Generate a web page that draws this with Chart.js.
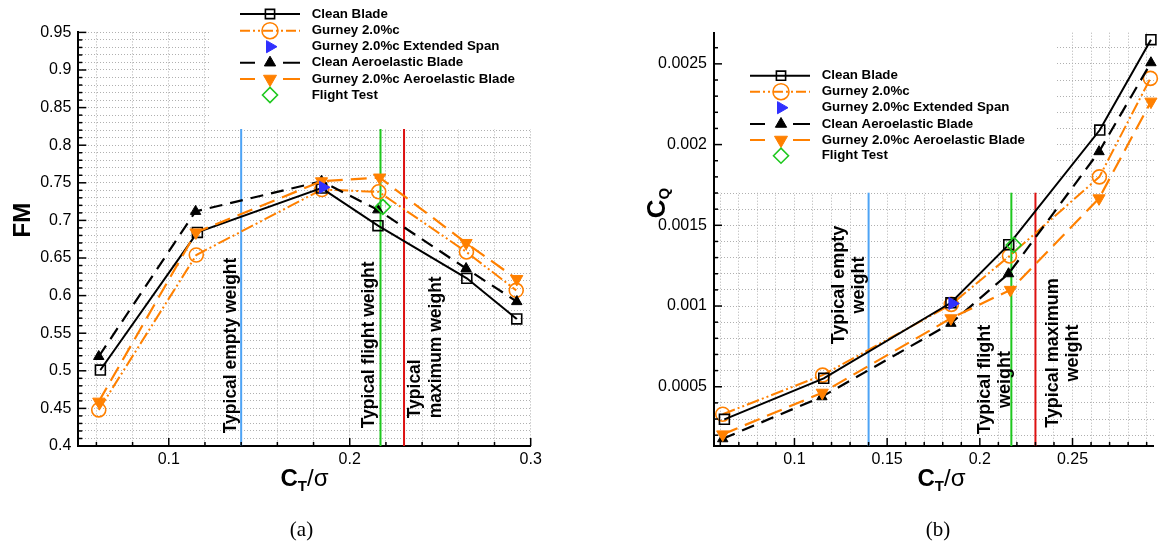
<!DOCTYPE html>
<html><head><meta charset="utf-8">
<script src="https://cdn.jsdelivr.net/npm/chart.js@4.4.1/dist/chart.umd.min.js"></script>
<style>
html,body{margin:0;padding:0;background:#fff;}
#wrap{position:relative;width:1163px;height:546px;overflow:hidden;background:#fff;}
#ca{position:absolute;left:0;top:0;}
#cb{position:absolute;left:580px;top:0;}
.cap{position:absolute;font-family:"Liberation Serif","DejaVu Serif",serif;font-size:21px;color:#000;transform:translate(-50%,-50%);white-space:nowrap;}
</style></head><body>
<div id="wrap">
<canvas id="ca" width="580" height="546"></canvas>
<canvas id="cb" width="583" height="546"></canvas>
<div class="cap" style="left:301.5px;top:529px">(a)</div>
<div class="cap" style="left:938px;top:529px">(b)</div>
</div>
<script>
// ---------------- DATA ----------------
const seriesNames = ['Clean Blade','Gurney 2.0%c','Gurney 2.0%c Extended Span','Clean Aeroelastic Blade','Gurney 2.0%c Aeroelastic Blade','Flight Test'];

const ctClean      = [0.0622, 0.1158, 0.1844, 0.2156, 0.2647, 0.2923];
const ctGurney     = [0.0613, 0.1152, 0.1846, 0.2160, 0.2645, 0.2920];
const ctExtended   = [0.1852];
const ctCleanAero  = [0.0613, 0.1148, 0.1844, 0.2155, 0.2643, 0.2923];
const ctGurneyAero = [0.0613, 0.1150, 0.1844, 0.2165, 0.2643, 0.2923];
const ctFlight     = [0.2183];

const fmClean      = [0.501, 0.684, 0.743, 0.693, 0.623, 0.569];
const fmGurney     = [0.448, 0.654, 0.741, 0.738, 0.658, 0.607];
const fmExtended   = [0.744];
const fmCleanAero  = [0.519, 0.712, 0.752, 0.714, 0.636, 0.592];
const fmGurneyAero = [0.459, 0.684, 0.752, 0.757, 0.670, 0.622];
const fmFlight     = [0.718];

const cqClean      = [0.000298, 0.000552, 0.00102, 0.00138, 0.00209, 0.00265];
const cqGurney     = [0.00033, 0.000572, 0.00101, 0.00131, 0.0018, 0.00241];
const cqExtended   = [0.001016];
const cqCleanAero  = [0.000178, 0.000438, 0.000893, 0.0012, 0.001956, 0.002507];
const cqGurneyAero = [0.000205, 0.000463, 0.000924, 0.0011, 0.001667, 0.002266];
const cqFlight     = [0.001378];

const refLines = [0.14, 0.217, 0.23];
const refLabelsA = [['Typical empty weight'], ['Typical flight weight'], ['Typical', 'maximum weight']];
const refLabelsB = [['Typical empty', 'weight'], ['Typical flight', 'weight'], ['Typical maximum', 'weight']];

const xTickLabelsA = ['0.1', '0.2', '0.3'];
const yTickLabelsA = ['0.4','0.45','0.5','0.55','0.6','0.65','0.7','0.75','0.8','0.85','0.9','0.95'];
const xTickLabelsB = ['0.1', '0.15', '0.2', '0.25'];
const yTickLabelsB = ['0.0005', '0.001', '0.0015', '0.002', '0.0025'];

// ---------------- STYLE ----------------
const FONT = '"Liberation Sans", Arial, Helvetica, sans-serif';
const ORANGE = '#ff8000';
const refColors = ['#4da3f5', '#1ec81e', '#dd1111'];
const styles = [
  {color:'#000', dash:[], width:2, ps:'rect', rot:0, r:7, fill:false, line:true, legDash:[], legR:6.5, order:4},
  {color:ORANGE, dash:[13,3,2,3,2,3], width:2, ps:'circle', rot:0, r:7, fill:false, line:true, legDash:[10,3,2,3,2,3], legR:8, order:5},
  {color:'#3030ff', dash:[], width:0, ps:'triangle', rot:90, r:7, fill:true, line:false, legR:7, order:0},
  {color:'#000', dash:[13,8], width:2.2, ps:'triangle', rot:0, r:6, fill:true, line:true, legDash:[15,28,17], legR:6.5, order:3},
  {color:ORANGE, dash:[16,8], width:2.2, ps:'triangle', rot:180, r:7, fill:true, line:true, legDash:[15,28,17], legR:7.5, order:2},
  {color:'#1ec81e', dash:[], width:0, ps:'rectRot', rot:0, r:7.5, fill:false, line:false, legR:7.5, order:1}
];

function mkDatasets(xs, ys) {
  return xs.map((xa, i) => {
    const s = styles[i];
    return {
      label: seriesNames[i],
      data: xa.map((x, j) => ({x: x, y: ys[i][j]})),
      showLine: s.line, borderColor: s.color, borderWidth: s.width, borderDash: s.dash,
      pointStyle: s.ps, pointRotation: s.rot, pointRadius: s.r, pointHoverRadius: s.r,
      pointBorderColor: s.color,
      pointBackgroundColor: s.fill ? s.color : 'rgba(0,0,0,0)',
      pointBorderWidth: s.fill ? 1 : 1.6,
      tension: 0, clip: false, fill: false, order: s.order
    };
  });
}

function range(a, b, step, dec) { const o = []; for (let v = a; v <= b + step / 2; v += step) o.push(+v.toFixed(dec)); return o; }
function labelFor(v, labels) { for (const l of labels) if (Math.abs(parseFloat(l) - v) < 1e-9) return l; return ''; }

function mkScales(c) {
  const gridCommon = {color:'#b0b0b0', lineWidth:1, drawTicks:false};
  const borderCommon = {display:true, color:'#000', width:2, dash:[1,2]};
  return {
    x: {type:'linear', position:'bottom', min:c.xmin, max:c.xmax,
      afterBuildTicks: s => { s.ticks = c.xGrid.map(v => ({value:v})); },
      afterFit: s => { s.height = 40; },
      ticks: {autoSkip:false, maxRotation:0, minRotation:0, padding:4, color:'#000',
        font:{family:FONT, size:16}, callback: v => labelFor(v, c.xLabels)},
      grid: gridCommon, border: borderCommon},
    y: {type:'linear', position:'left', min:c.ymin, max:c.ymax,
      afterBuildTicks: s => { s.ticks = c.yGrid.map(v => ({value:v})); },
      afterFit: s => { s.width = c.yw; },
      ticks: {autoSkip:false, padding:7, color:'#000',
        font:{family:FONT, size:16}, callback: v => labelFor(v, c.yLabels)},
      grid: gridCommon, border: borderCommon}
  };
}

function drawParts(ctx, parts, x, y, rotated, align) {
  ctx.save();
  ctx.translate(x, y);
  if (rotated) ctx.rotate(-Math.PI / 2);
  ctx.fillStyle = '#000'; ctx.textBaseline = 'alphabetic'; ctx.textAlign = 'left';
  let total = 0;
  parts.forEach(p => { ctx.font = p.font; p.w = ctx.measureText(p.t).width; total += p.w; });
  let cx = align === 'center' ? -total / 2 : 0;
  parts.forEach(p => { ctx.font = p.font; ctx.fillText(p.t, cx, p.dy || 0); cx += p.w; });
  ctx.restore();
}

const decoPlugin = {
  id: 'deco',
  beforeDatasetsDraw(chart, args, o) {
    const ctx = chart.ctx, a = chart.chartArea, xs = chart.scales.x;
    ctx.save();
    refLines.forEach((v, i) => {
      const px = xs.getPixelForValue(v);
      ctx.strokeStyle = refColors[i]; ctx.lineWidth = 2; ctx.setLineDash([]);
      ctx.beginPath(); ctx.moveTo(px, a.top); ctx.lineTo(px, a.bottom); ctx.stroke();
    });
    ctx.fillStyle = '#fff';
    ctx.fillRect(o.box[0], o.box[1], o.box[2] - o.box[0], o.box[3] - o.box[1]);
    ctx.restore();
  },
  afterDatasetsDraw(chart, args, o) {
    const ctx = chart.ctx, a = chart.chartArea, xs = chart.scales.x, ys = chart.scales.y;
    ctx.save();
    // inward ticks
    ctx.strokeStyle = '#000'; ctx.lineWidth = 1.5; ctx.setLineDash([]);
    xs.ticks.forEach(t => {
      const px = xs.getPixelForValue(t.value), L = t.label ? 8 : 4;
      ctx.beginPath(); ctx.moveTo(px, a.bottom); ctx.lineTo(px, a.bottom - L); ctx.stroke();
    });
    ys.ticks.forEach(t => {
      const py = ys.getPixelForValue(t.value), L = t.label ? 8 : 4;
      ctx.beginPath(); ctx.moveTo(a.left, py); ctx.lineTo(a.left + L, py); ctx.stroke();
    });
    // reference labels
    ctx.fillStyle = '#000';
    o.refText.forEach((lines, i) => {
      const px = xs.getPixelForValue(refLines[i]);
      const spec = o.refPos[i];
      lines.forEach((txt, k) => {
        drawParts(ctx, [{t:txt, font:'bold ' + o.refFont + 'px ' + FONT}], px + spec.dx[k], spec.y, true, spec.align);
      });
    });
    // legend
    const L = o.legend;
    chart.data.datasets.forEach((ds, i) => {
      const s = styles[i], yy = L.rows[i];
      if (s.line) {
        ctx.strokeStyle = s.color; ctx.lineWidth = 2; ctx.setLineDash(s.legDash);
        ctx.beginPath(); ctx.moveTo(L.x0, yy); ctx.lineTo(L.x1, yy); ctx.stroke();
        ctx.setLineDash([]);
      }
      ctx.strokeStyle = s.color; ctx.fillStyle = s.fill ? s.color : 'rgba(0,0,0,0)';
      ctx.lineWidth = s.fill ? 1 : 1.6;
      Chart.helpers.drawPoint(ctx, {pointStyle:s.ps, rotation:s.rot, radius:s.legR, borderWidth: s.fill ? 1 : 1.6}, L.xm, yy);
      ctx.fillStyle = '#000';
      ctx.font = 'bold ' + L.font + 'px ' + FONT;
      ctx.textAlign = 'left'; ctx.textBaseline = 'middle';
      ctx.fillText(ds.label, L.xt, yy);
    });
    ctx.restore();
  },
  afterDraw(chart, args, o) {
    const ctx = chart.ctx;
    const xt = o.xTitle;
    drawParts(ctx, [
      {t:'C', font:'bold 24px ' + FONT},
      {t:'T', font:'bold 15px ' + FONT, dy:5},
      {t:'/\u03C3', font:'24px ' + FONT}
    ], xt.x, xt.y, false, 'center');
    const yt = o.yTitle;
    drawParts(ctx, yt.parts, yt.x, yt.y, true, 'center');
  }
};

function makeChart(id, xs, ys, c, deco) {
  return new Chart(document.getElementById(id), {
    type: 'line',
    data: {datasets: mkDatasets(xs, ys)},
    options: {
      responsive: false, animation: false, events: [],
      layout: {padding: c.pad},
      plugins: {legend: {display:false}, tooltip: {enabled:false}, deco: deco},
      scales: mkScales(c)
    },
    plugins: [decoPlugin]
  });
}

Chart.defaults.font.family = FONT;

makeChart('ca',
  [ctClean, ctGurney, ctExtended, ctCleanAero, ctGurneyAero, ctFlight],
  [fmClean, fmGurney, fmExtended, fmCleanAero, fmGurneyAero, fmFlight],
  {xmin:0.05, xmax:0.3, ymin:0.4, ymax:0.95, yw:60,
   xGrid: range(0.06, 0.30, 0.02, 2), yGrid: range(0.40, 0.95, 0.01, 2),
   xLabels: xTickLabelsA, yLabels: yTickLabelsA,
   pad: {left:18.3, right:49.3, top:32.4, bottom:60}},
  {box:[211, 0, 580, 129], refFont:17.5, refText: refLabelsA,
   refPos: [{dx:[-5.5], y:433.3, align:'left'}, {dx:[-7], y:428.3, align:'left'}, {dx:[16, 36.5], y:418.3, align:'left'}],
   legend: {x0:240, x1:300, xm:270, xt:311.7, font:13.3, rows:[14, 30.7, 46.7, 62.7, 79, 95]},
   xTitle: {x:304.5, y:485.7},
   yTitle: {x:29.6, y:220.2, parts:[{t:'FM', font:'bold 24px ' + FONT}]}}
);

makeChart('cb',
  [ctClean, ctGurney, ctExtended, ctCleanAero, ctGurneyAero, ctFlight],
  [cqClean, cqGurney, cqExtended, cqCleanAero, cqGurneyAero, cqFlight],
  {xmin:0.0566, xmax:0.2939, ymin:0.000133, ymax:0.002693, yw:70,
   xGrid: range(0.06, 0.29, 0.01, 2), yGrid: range(0.0002, 0.0026, 0.0001, 4),
   xLabels: xTickLabelsB, yLabels: yTickLabelsB,
   pad: {left:64, right:2, top:32.7, bottom:60}},
  {box:[136, 0, 477, 192.7], refFont:18, refText: refLabelsB,
   refPos: [{dx:[-25, -5], y:285, align:'center'}, {dx:[-21.5, -1.5], y:379.5, align:'center'}, {dx:[22.3, 42.4], y:353, align:'center'}],
   legend: {x0:170, x1:230, xm:201, xt:241.7, font:13.3, rows:[75.7, 91.7, 107.7, 124, 140, 155.7]},
   xTitle: {x:361.5, y:485.7},
   yTitle: {x:85, y:203, parts:[{t:'C', font:'bold 26px ' + FONT}, {t:'Q', font:'bold 15px ' + FONT, dy:4}]}}
);
</script>
</body></html>
